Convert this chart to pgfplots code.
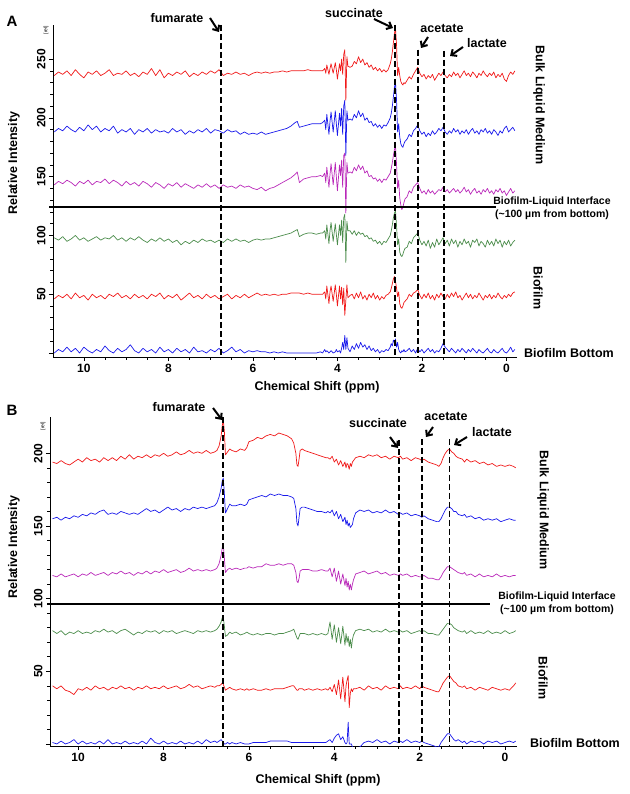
\documentclass[border=0pt]{standalone}
\usepackage{pgfplots}
\pgfplotsset{compat=1.18}
\usepackage{pgfplotstable}
\usepackage{fontspec}
\setmainfont{Liberation Sans}
\usetikzlibrary{arrows.meta}
\definecolor{sred}{RGB}{240,25,25}
\definecolor{sblue}{RGB}{25,25,235}
\definecolor{smag}{RGB}{185,40,185}
\definecolor{sgreen}{RGB}{75,140,75}

% Panel A: chemical shift (ppm) and six stacked traces
\pgfplotstableread{
x r1 b2 m3 g4 r5 b6
10.7 236 188 143 98 46 0
10.6 239 191 146 96 49 3
10.5 237 189 144 99 47 1
10.4 240 193 147 95 50 5
10.3 236 190 145 97 46 1
10.2 241 188 142 100 51 4
10.1 237 192 146 96 47 0
10.0 234 189 144 98 49 5
9.9 239 194 147 95 45 2
9.8 237 190 143 97 50 0
9.7 240 193 146 99 47 3
9.6 236 188 145 96 49 1
9.5 238 191 148 98 46 6
9.4 241 189 144 97 50 2
9.3 236 193 147 100 48 0
9.2 238 187 145 96 51 4
9.1 237 190 142 98 47 1
9.0 240 188 146 95 49 3
8.9 236 191 143 98 46 7
8.8 238 186 145 96 50 2
8.7 235 190 142 99 47 0
8.6 239 188 146 96 49 4
8.5 237 191 144 94 46 1
8.4 242 187 141 97 50 3
8.3 236 190 145 95 48 0
8.2 241 188 143 98 51 5
8.1 234 189 140 95 46 1
8.0 238 187 144 97 49 3
7.9 236 191 142 94 47 0
7.8 239 188 145 96 50 4
7.7 237 190 141 92 45 1
7.6 240 186 144 95 48 3
7.5 235 189 142 93 51 0
7.4 238 187 140 96 47 5
7.3 236 190 143 94 49 1
7.2 239 188 141 97 46 2
7.1 237 191 144 95 50 0
7.0 240 187 141 96 47 3
6.9 238 190 143 94 49 1
6.8 241 189 140 96 46 4
6.7 236 187 143 94 48 0
6.6 238 190 141 97 50 2
6.5 237 188 142 95 46 5
6.4 239 189 140 97 49 1
6.3 237 186 143 95 47 3
6.2 238 188 141 96 50 0
6.1 236 186 142 94 47 2
6.0 238 187 140 96 49 1
5.9 239 186 139 97 51 2
5.8 238 188 141 96 49 1
5.7 239 186 138 97 50 1
5.6 238 187 140 97 49 0
5.5 239 188 141 98 50 1
5.4 239 189 143 99 49 0
5.3 240 190 145 100 50 1
5.2 239 191 147 101 50 0
5.1 240 193 149 102 51 0
5.0 240 196 152 104 51 0
4.95 240 197 154 105 51 0
4.9 240 192 145 99 51 0
4.8 240 193 148 101 50 0
4.7 241 194 149 102 51 0
4.6 240 195 150 102 50 0
4.5 240 195 150 101 50 0
4.4 240 195 151 102 50 1
4.35 240 196 150 102 50 0
4.3 242 198 153 104 52 3
4.275 238 190 145 97 46 1
4.25 245 203 158 109 57 2
4.2 237 186 141 93 42 0
4.175 242 197 152 104 52 1
4.15 246 205 161 111 57 2
4.1 238 188 143 95 44 0
4.05 247 206 162 110 58 1
4.025 241 195 150 101 50 3
4.0 233 185 138 92 40 1
3.95 246 204 160 109 57 2
3.925 240 193 151 100 46 0
3.9 250 208 164 113 56 4
3.875 237 186 141 94 41 9
3.85 254 210 168 115 55 3
3.825 258 215 170 118 32 15
3.8 215 168 119 77 45 3
3.775 252 206 162 112 58 13
3.75 244 198 153 104 47 4
3.7 243 199 154 104 49 1
3.65 244 198 153 101 50 6
3.6 248 203 158 104 46 3
3.55 246 200 155 100 51 8
3.5 252 206 160 103 47 4
3.45 247 201 156 101 52 9
3.4 250 204 159 102 46 5
3.35 245 198 153 99 49 7
3.3 247 200 155 100 45 3
3.25 243 196 150 97 50 6
3.2 245 197 151 98 47 2
3.15 241 193 148 95 51 4
3.1 243 195 149 96 46 1
3.05 240 192 146 93 49 3
3.0 242 194 148 95 45 0
2.95 239 191 145 92 48 2
2.9 241 194 148 95 46 1
2.85 239 193 147 94 49 3
2.8 241 196 150 97 50 2
2.75 246 200 153 100 52 5
2.725 250 204 157 104 55 8
2.7 256 210 162 109 59 6
2.675 264 218 168 115 63 11
2.65 272 226 173 119 65 9
2.625 276 230 176 121 61 12
2.6 262 215 160 108 55 5
2.575 236 188 140 92 48 9
2.55 243 195 147 97 52 3
2.525 236 184 132 86 42 1
2.5 231 178 126 83 39 0
2.475 229 176 122 82 38 2
2.45 228 175 124 84 40 1
2.425 230 178 128 87 43 3
2.4 229 180 131 89 44 1
2.35 232 182 133 90 46 2
2.3 235 186 138 95 50 4
2.25 233 184 136 93 48 1
2.2 237 189 141 98 51 3
2.15 240 191 143 100 52 0
2.1 243 194 145 102 54 4
2.05 238 189 140 96 49 1
2.0 235 186 136 92 46 3
1.95 237 188 138 95 50 0
1.9 233 184 135 91 47 2
1.85 236 187 139 96 51 4
1.8 234 185 136 89 46 1
1.75 237 189 138 94 49 3
1.7 232 186 135 90 45 0
1.65 235 188 137 97 50 2
1.6 238 191 139 92 47 1
1.55 236 189 138 95 51 4
1.5 239 192 141 98 48 8
1.45 236 188 137 93 46 5
1.4 234 186 139 96 50 3
1.35 237 189 136 91 47 1
1.3 235 187 138 97 51 4
1.25 239 191 140 93 48 2
1.2 236 188 137 96 52 0
1.15 238 190 139 90 47 3
1.1 234 186 136 95 49 1
1.05 237 189 138 92 45 4
1.0 240 187 141 97 48 2
0.95 236 190 137 93 51 0
0.9 238 186 139 95 47 3
0.85 235 189 135 90 50 1
0.8 239 191 138 96 46 4
0.75 237 187 140 94 49 2
0.7 234 189 136 97 47 0
0.65 238 186 138 91 51 3
0.6 236 190 135 95 48 1
0.55 240 188 139 93 45 0
0.5 237 191 137 90 49 2
0.45 235 187 140 96 47 4
0.4 238 189 136 92 50 1
0.35 236 186 138 95 46 0
0.3 239 190 135 91 49 3
0.25 234 188 139 97 47 1
0.2 237 185 137 93 51 0
0.15 235 189 140 96 48 2
0.1 238 187 136 90 46 4
0.05 233 191 138 95 49 1
0.0 231 193 134 92 47 0
-0.05 236 188 137 96 50 2
-0.1 239 190 140 91 48 5
-0.15 237 192 136 94 51 1
-0.2 240 189 138 96 52 3
}\tabA

% Panel B
\pgfplotstableread{
x r1 b2 m3 g4 r5 b6
10.6 194 155 116 78 40 1
10.5 193 156 115 76 38 0
10.4 195 154 117 78 40 2
10.3 193 156 115 75 37 0
10.2 192 155 116 77 36 1
10.1 194 157 117 76 34 3
10.0 196 156 115 78 38 0
9.9 194 158 117 76 37 2
9.8 197 157 116 77 39 0
9.7 195 159 118 76 37 1
9.6 196 158 116 78 40 0
9.5 194 160 117 77 38 2
9.4 197 161 118 79 39 0
9.3 195 158 116 77 37 3
9.2 197 159 118 78 39 0
9.1 195 158 117 76 38 1
9.0 198 160 119 78 40 0
8.9 196 159 117 79 38 2
8.8 199 158 118 77 39 0
8.7 196 159 116 75 37 1
8.6 198 158 118 77 39 0
8.5 197 160 117 76 38 2
8.4 199 162 119 78 40 0
8.3 197 160 117 77 38 4
8.2 199 161 119 78 39 1
8.1 198 159 118 76 38 0
8.0 200 161 120 78 40 2
7.9 198 163 118 77 38 0
7.8 199 161 119 78 39 1
7.7 201 162 120 76 40 0
7.6 199 160 118 77 38 2
7.5 200 162 119 78 39 0
7.4 202 161 121 77 41 1
7.3 200 163 119 76 39 0
7.2 201 162 120 78 40 2
7.1 200 163 119 77 38 0
7.0 202 162 120 78 39 3
6.9 200 163 119 77 40 1
6.8 201 164 120 78 39 2
6.75 202 166 121 79 40 1
6.7 205 170 124 81 40 2
6.65 212 176 130 84 41 3
6.625 219 181 135 87 42 2
6.6 223 183 137 87 41 1
6.575 215 172 128 81 39 0
6.55 199 159 118 74 37 0
6.5 201 162 120 75 38 1
6.45 203 165 121 77 39 0
6.4 202 164 120 76 38 1
6.3 201 164 121 77 37 0
6.2 203 165 120 75 38 1
6.1 202 164 121 76 37 0
6.05 204 165 121 77 38 0
6.0 208 168 122 76 37 0
5.9 209 169 121 75 38 1
5.8 211 170 122 76 37 1
5.7 210 171 122 75 37 1
5.6 212 170 124 76 38 1
5.5 213 172 123 76 37 2
5.4 212 171 123 75 38 2
5.3 214 172 124 76 38 2
5.2 213 171 123 76 38 2
5.1 212 171 124 77 39 2
5.0 210 170 124 78 40 1
4.95 207 169 123 79 40 1
4.9 200 162 118 75 38 1
4.875 192 152 112 73 37 1
4.85 191 150 111 72 37 1
4.825 196 156 114 74 38 1
4.8 202 162 119 76 38 1
4.75 203 163 120 76 38 1
4.7 202 163 120 76 37 1
4.6 201 162 120 75 38 1
4.5 200 161 119 76 37 1
4.4 199 160 119 75 38 1
4.3 198 160 120 76 37 1
4.2 197 159 119 75 38 1
4.15 197 160 119 76 37 2
4.1 196 159 121 84 39 3
4.05 198 161 115 72 36 1
4.0 194 157 121 82 41 4
3.95 196 160 112 70 34 6
3.9 192 155 119 80 44 7
3.85 195 158 110 69 31 3
3.8 191 153 117 81 46 5
3.75 194 156 109 68 29 1
3.725 190 151 114 76 40 0
3.7 193 154 108 70 44 1
3.675 192 150 112 74 47 15
3.65 189 152 106 67 25 0
3.625 193 149 110 72 35 0
3.6 191 150 106 66 38 0
3.575 194 151 110 72 36 -2
3.55 195 155 113 75 38 -3
3.5 197 159 117 78 38 -3
3.4 198 161 118 79 39 -2
3.3 197 160 119 78 37 1
3.2 199 161 117 79 40 2
3.1 198 159 118 77 38 1
3.0 199 160 119 78 39 3
2.9 197 159 117 77 37 1
2.8 198 161 118 79 40 2
2.7 196 159 116 77 38 0
2.6 198 160 117 78 39 2
2.5 197 158 116 77 38 1
2.45 198 159 117 78 40 2
2.4 196 158 116 77 38 1
2.3 197 159 117 78 39 3
2.2 195 157 115 76 38 1
2.1 197 158 116 77 40 2
2.0 196 157 115 78 38 1
1.95 195 156 115 77 40 2
1.9 196 157 116 78 39 1
1.8 194 155 114 76 38 0
1.7 193 154 114 76 37 -1
1.6 192 153 113 75 36 -2
1.55 191 153 113 75 36 -2
1.5 193 155 115 77 39 1
1.45 197 158 118 79 42 3
1.4 200 161 120 81 44 5
1.35 202 163 122 83 46 7
1.3 203 163 122 83 47 7
1.25 201 162 121 82 45 5
1.2 200 160 120 80 43 3
1.15 198 160 119 79 42 2
1.1 197 158 118 78 40 3
1.0 196 157 117 77 39 1
0.95 194 158 118 78 40 2
0.9 196 156 116 76 38 0
0.8 194 157 117 78 39 2
0.7 195 155 115 76 37 1
0.6 193 156 117 77 39 2
0.5 194 154 115 76 38 0
0.4 192 155 116 78 37 2
0.3 193 154 115 76 39 1
0.2 191 155 117 77 38 2
0.1 192 153 115 76 37 0
0.0 191 154 116 78 38 1
-0.1 192 155 115 76 37 2
-0.2 191 154 116 77 40 1
-0.25 190 154 116 78 42 2
}\tabB

\pgfplotsset{spec/.style={
  scale only axis, x dir=reverse,
  axis x line=bottom, axis y line=left,
  axis line style={-, line width=0.6pt, black},
  xtick={0,2,4,6,8,10}, minor x tick num=3,
  minor y tick num=4,
  tick align=outside, major tick length=4pt, minor tick length=2.5pt,
  tick style={line width=0.6pt, black},
  /pgf/number format/assume math mode=true,
  ticklabel style={font=\fontsize{12}{14}\selectfont\bfseries},
  yticklabel style={rotate=90, anchor=south},
  every axis plot/.append style={line width=0.7pt, line join=round},
}}
\tikzset{lab/.style={font=\fontsize{12.5}{14}\selectfont\bfseries, inner sep=0pt},
  smalllab/.style={font=\fontsize{10.5}{12}\selectfont\bfseries, inner sep=0pt},
  arr/.style={-{Straight Barb[length=4.5pt,width=8pt]}, line width=2pt},
  mydash/.style={black, line width=1.8pt, dash pattern=on 6pt off 3pt}}

\begin{document}
\begin{tikzpicture}
\path[use as bounding box] (0pt,0pt) rectangle (629pt,-794pt);

% ---------------- Panel A ----------------
\begin{axis}[spec, at={(53pt,-357pt)}, anchor=south west,
  width=464pt, height=332pt,
  xmin=-0.25, xmax=10.73, ymin=-3.4, ymax=279,
  ytick={0,50,100,150,200,250}, yticklabels={,50,100,150,200,250}]
\addplot[sred]   table[x=x,y=r1]{\tabA};
\addplot[sblue]  table[x=x,y=b2]{\tabA};
\addplot[smag]   table[x=x,y=m3]{\tabA};
\addplot[sgreen] table[x=x,y=g4]{\tabA};
\addplot[sred]   table[x=x,y=r5]{\tabA};
\addplot[sblue]  table[x=x,y=b6]{\tabA};
\addplot[mydash] coordinates {(6.75,279) (6.75,-3.4)};
\addplot[mydash] coordinates {(2.63,279) (2.63,-3.4)};
\addplot[mydash] coordinates {(2.10,258) (2.10,-3.4)};
\addplot[mydash] coordinates {(1.47,257) (1.47,-3.4)};
\addplot[black, line width=2pt] coordinates {(10.73,124) (0.24,124)};
\end{axis}
\draw[black, line width=2pt] (49pt,-207pt) -- (53pt,-207pt);
\node[font=\fontsize{15}{16}\selectfont\bfseries] at (12pt,-21pt) {A};
\node[font=\fontsize{5}{6}\selectfont, rotate=90] at (46pt,-30pt) {[rel]};
\node[lab, rotate=90] at (14pt,-163pt) {Relative Intensity};
\node[lab] at (317pt,-387pt) {Chemical Shift (ppm)};
\node[lab] at (177pt,-18pt) {fumarate};
\node[lab] at (354pt,-13pt) {succinate};
\node[lab] at (442pt,-28pt) {acetate};
\node[lab] at (487pt,-43pt) {lactate};
\draw[arr] (210pt,-18pt) -- (219pt,-32pt);
\draw[arr] (374pt,-19pt) -- (393pt,-28pt);
\draw[arr] (428pt,-37pt) -- (421pt,-48pt);
\draw[arr] (463pt,-47pt) -- (450pt,-56pt);
\node[lab, rotate=-90] at (539pt,-105pt) {Bulk Liquid Medium};
\node[smalllab] at (552pt,-202pt) {Biofilm-Liquid Interface};
\node[smalllab] at (552pt,-215pt) {(\textasciitilde100 µm from bottom)};
\node[lab, rotate=-90] at (538pt,-288pt) {Biofilm};
\node[lab] at (569pt,-353pt) {Biofilm Bottom};

% ---------------- Panel B ----------------
\begin{axis}[spec, at={(50pt,-746pt)}, anchor=south west,
  width=467pt, height=329pt,
  xmin=-0.28, xmax=10.66, ymin=-1.4, ymax=225,
  ytick={0,50,100,150,200}, yticklabels={,50,100,150,200}]
\addplot[sred]   table[x=x,y=r1]{\tabB};
\addplot[sblue]  table[x=x,y=b2]{\tabB};
\addplot[smag]   table[x=x,y=m3]{\tabB};
\addplot[sgreen] table[x=x,y=g4]{\tabB};
\addplot[sred]   table[x=x,y=r5]{\tabB};
\addplot[sblue]  table[x=x,y=b6]{\tabB};
\addplot[mydash] coordinates {(6.6,225) (6.6,-1.4)};
\addplot[mydash] coordinates {(2.48,209) (2.48,-1.4)};
\addplot[mydash] coordinates {(1.95,210) (1.95,-1.4)};
\addplot[mydash] coordinates {(1.30,210) (1.30,-1.4)};
\addplot[black, line width=2pt] coordinates {(10.66,96.4) (0.35,96.4)};
\end{axis}
\draw[black, line width=2pt] (47pt,-604pt) -- (50pt,-604pt);
\node[font=\fontsize{15}{16}\selectfont\bfseries] at (12pt,-410pt) {B};
\node[font=\fontsize{5}{6}\selectfont, rotate=90] at (43pt,-426pt) {[rel]};
\node[lab, rotate=90] at (14pt,-547pt) {Relative Intensity};
\node[lab] at (318pt,-780pt) {Chemical Shift (ppm)};
\node[lab] at (179pt,-407pt) {fumarate};
\node[lab] at (378pt,-423pt) {succinate};
\node[lab] at (446pt,-416pt) {acetate};
\node[lab] at (492pt,-432pt) {lactate};
\draw[arr] (213pt,-408pt) -- (222pt,-420pt);
\draw[arr] (390pt,-437pt) -- (398pt,-448pt);
\draw[arr] (433pt,-427pt) -- (426pt,-437pt);
\draw[arr] (467pt,-437pt) -- (454pt,-445pt);
\node[lab, rotate=-90] at (543pt,-510pt) {Bulk Liquid Medium};
\node[smalllab] at (557pt,-597pt) {Biofilm-Liquid Interface};
\node[smalllab] at (557pt,-610pt) {(\textasciitilde100 µm from bottom)};
\node[lab, rotate=-90] at (543pt,-678pt) {Biofilm};
\node[lab] at (575pt,-743pt) {Biofilm Bottom};
\end{tikzpicture}
\end{document}
